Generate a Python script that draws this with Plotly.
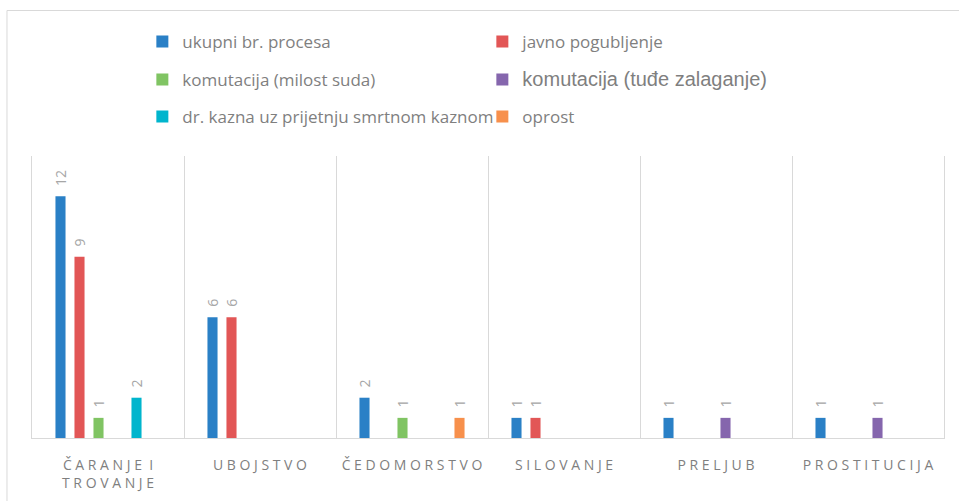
import plotly.graph_objects as go

categories = ["ČARANJE I TROVANJE", "UBOJSTVO", "ČEDOMORSTVO", "SILOVANJE", "PRELJUB", "PROSTITUCIJA"]
tick_labels = ["ČARANJE I<br>TROVANJE", "UBOJSTVO", "ČEDOMORSTVO", "SILOVANJE", "PRELJUB", "PROSTITUCIJA"]

series_names = [
    "ukupni br. procesa",
    "javno pogubljenje",
    "komutacija (milost suda)",
    "komutacija (tuđe zalaganje)",
    "dr. kazna uz prijetnju smrtnom kaznom",
    "oprost",
]
ukupni = [12, 6, 2, 1, 1, 1]
javno = [9, 6, None, 1, None, None]
milost = [1, None, 1, None, None, None]
tudje = [None, None, None, None, 1, 1]
dr_kazna = [2, None, None, None, None, None]
oprost = [None, None, 1, None, None, None]
values = [ukupni, javno, milost, tudje, dr_kazna, oprost]

colors = ["#2A80C6", "#E25656", "#80C463", "#8566AD", "#00B5CD", "#F7904C"]
legend_ids = ["legend", "legend", "legend2", "legend2", "legend3", "legend3"]


def spaced(label):
    lines = label.split("<br>")
    out = []
    for line in lines:
        words = line.split(" ")
        out.append("\u00a0\u00a0".join(" ".join(list(w)) for w in words))
    return "<br>".join(out)


display_ticks = [spaced(t) for t in tick_labels]

fig = go.Figure()
for name, vals, col, lg in zip(series_names, values, colors, legend_ids):
    legend_name = name
    if name == "komutacija (tuđe zalaganje)":
        legend_name = '<span style="font-size:20px;font-family:Liberation Sans">' + name + "</span>"
    fig.add_trace(go.Bar(
        x=categories,
        y=vals,
        name=legend_name,
        marker=dict(color=col, line=dict(width=0)),
        text=[("" if v is None else "\u00a0\u00a0" + str(v)) for v in vals],
        textposition="outside",
        textangle=-90,
        constraintext="none",
        cliponaxis=False,
        textfont=dict(family="Open Sans", size=14, color="#A6A6A6"),
        legend=lg,
    ))

legend_common = dict(
    orientation="h",
    entrywidth=295,
    entrywidthmode="pixels",
    x=0.121,
    xanchor="left",
    yanchor="middle",
    font=dict(family="Open Sans", size=17, color="#7F7F7F"),
    bgcolor="rgba(0,0,0,0)",
    itemclick=False,
)

fig.update_layout(
    width=959,
    height=501,
    margin=dict(l=32, r=15, t=156, b=63),
    paper_bgcolor="white",
    plot_bgcolor="white",
    barmode="group",
    bargap=0.25,
    bargroupgap=0.47,
    showlegend=True,
    legend=dict(legend_common, y=(438 - 42) / 282),
    legend2=dict(legend_common, y=(438 - 80) / 282),
    legend3=dict(legend_common, y=(438 - 117) / 282),
    xaxis=dict(
        type="category",
        automargin=False,
        tickmode="array",
        tickvals=categories,
        ticktext=display_ticks,
        tickson="boundaries",
        ticks="",
        showgrid=True,
        gridcolor="#D9D9D9",
        gridwidth=1,
        showline=True,
        linecolor="#D9D9D9",
        linewidth=1,
        ticklabelstandoff=14,
        tickfont=dict(family="Open Sans", size=14, color="#7F7F7F"),
    ),
    yaxis=dict(
        range=[0, 14],
        automargin=False,
        showticklabels=False,
        showgrid=False,
        zeroline=False,
        showline=True,
        mirror=True,
        linecolor="#D9D9D9",
        linewidth=1,
        ticks="",
    ),
    shapes=[dict(
        type="rect",
        xref="paper", yref="paper",
        x0=(7 - 32) / 911, x1=(965 - 32) / 911,
        y0=(438 - 510) / 282, y1=(438 - 10.5) / 282,
        line=dict(color="#D9D9D9", width=1),
        fillcolor="rgba(0,0,0,0)",
        layer="below",
    )],
)

fig.write_html(
    "out.html",
    config={"displayModeBar": False},
    post_script="document.body.style.margin='0';",
)
